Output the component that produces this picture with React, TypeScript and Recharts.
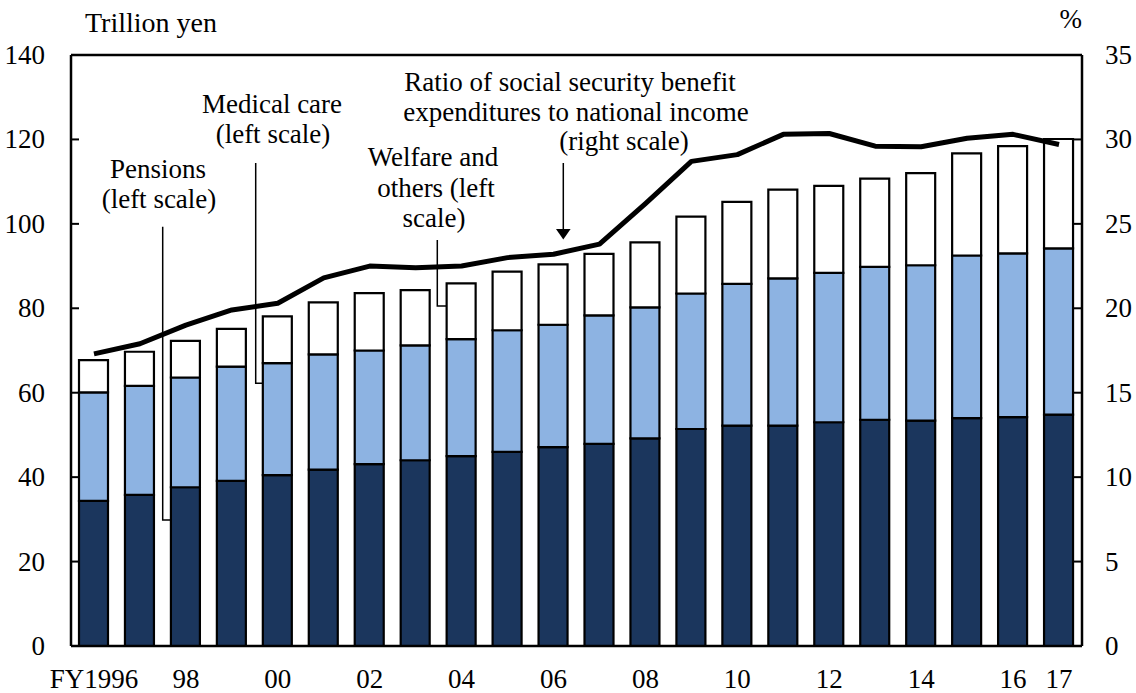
import { ComposedChart, Bar, Line, XAxis, YAxis, ReferenceLine } from 'recharts';

const years = ['1996', '1997', '1998', '1999', '2000', '2001', '2002', '2003', '2004', '2005', '2006', '2007', '2008', '2009', '2010', '2011', '2012', '2013', '2014', '2015', '2016', '2017'];
const yearLabels = ['FY1996', '', '98', '', '00', '', '02', '', '04', '', '06', '', '08', '', '10', '', '12', '', '14', '', '16', '17'];

// trillion yen
const pensions = [34.4, 35.8, 37.6, 39.1, 40.5, 41.8, 43.1, 44.0, 45.0, 46.0, 47.1, 47.9, 49.2, 51.4, 52.2, 52.2, 53.0, 53.6, 53.4, 54.0, 54.2, 54.8];
const medicalCare = [25.7, 25.8, 26.0, 27.1, 26.5, 27.3, 26.9, 27.2, 27.7, 28.8, 29.0, 30.4, 31.0, 32.1, 33.6, 34.9, 35.4, 36.2, 36.8, 38.5, 38.8, 39.4];
const welfare = [7.6, 8.1, 8.7, 8.9, 11.1, 12.3, 13.6, 13.1, 13.2, 13.9, 14.3, 14.6, 15.4, 18.2, 19.4, 21.0, 20.6, 20.9, 21.8, 24.2, 25.4, 25.9];
// % of national income
const ratio = [17.3, 17.9, 19.0, 19.9, 20.3, 21.8, 22.5, 22.4, 22.5, 23.0, 23.2, 23.8, 26.2, 28.7, 29.1, 30.3, 30.35, 29.6, 29.57, 30.07, 30.3, 29.7];

const leftTicks = [0, 20, 40, 60, 80, 100, 120, 140];
const rightTicks = [0, 5, 10, 15, 20, 25, 30, 35];

const data = years.map((year, i) => ({
  year,
  pensions: pensions[i],
  medical: medicalCare[i],
  welfare: welfare[i],
  ratio: ratio[i],
}));

const FONT = '"Liberation Serif", "Times New Roman", serif';
const FS = 27;

const LeftTick = ({ x, y, payload }: any) => (
  <g>
    <line x1={x} x2={x + 8} y1={y} y2={y} stroke="#000" strokeWidth={2} />
    <text x={x - 26} y={y} textAnchor="end" dominantBaseline="central" fontFamily={FONT} fontSize={FS} fill="#000">
      {payload.value}
    </text>
  </g>
);

const RightTick = ({ x, y, payload }: any) => (
  <g>
    <line x1={x - 8} x2={x} y1={y} y2={y} stroke="#000" strokeWidth={2} />
    <text x={x + 23} y={y} textAnchor="start" dominantBaseline="central" fontFamily={FONT} fontSize={FS} fill="#000">
      {payload.value}
    </text>
  </g>
);

const BottomTick = ({ x, y, index }: any) => (
  <text x={x} y={y + 42} textAnchor="middle" fontFamily={FONT} fontSize={FS} fill="#000">
    {yearLabels[index]}
  </text>
);

const txt = { fontFamily: FONT, fontSize: FS, fill: '#000' };

export default function App() {
  return (
    <div style={{ position: 'absolute', left: 0, top: 0, width: 1136, height: 693, background: '#fff' }}>
      <ComposedChart width={1136} height={693} data={data} margin={{ top: 55, right: 0, bottom: 0, left: 0 }}>
        <XAxis
          dataKey="year"
          height={47}
          interval={0}
          tickLine={false}
          tickSize={0}
          tickMargin={0}
          axisLine={{ stroke: '#000', strokeWidth: 2.5 }}
          tick={<BottomTick />}
        />
        <YAxis
          yAxisId="left"
          orientation="left"
          width={71}
          domain={[0, 140]}
          ticks={leftTicks}
          tickLine={false}
          tickSize={0}
          tickMargin={0}
          axisLine={{ stroke: '#000', strokeWidth: 2.5 }}
          tick={<LeftTick />}
        />
        <YAxis
          yAxisId="right"
          orientation="right"
          width={54}
          domain={[0, 35]}
          ticks={rightTicks}
          tickLine={false}
          tickSize={0}
          tickMargin={0}
          axisLine={{ stroke: '#000', strokeWidth: 2.5 }}
          tick={<RightTick />}
        />
        <ReferenceLine yAxisId="left" y={140} stroke="#000" strokeWidth={2.5} />
        <Bar yAxisId="left" dataKey="pensions" stackId="a" barSize={29} fill="#1b365d" stroke="#000" strokeWidth={2.2} isAnimationActive={false} />
        <Bar yAxisId="left" dataKey="medical" stackId="a" barSize={29} fill="#8db3e2" stroke="#000" strokeWidth={2.2} isAnimationActive={false} />
        <Bar yAxisId="left" dataKey="welfare" stackId="a" barSize={29} fill="#ffffff" stroke="#000" strokeWidth={2.2} isAnimationActive={false} />
        <Line yAxisId="right" dataKey="ratio" type="linear" stroke="#000" strokeWidth={5} dot={false} strokeLinejoin="round" isAnimationActive={false} />
      </ComposedChart>

      <svg width={1136} height={693} style={{ position: 'absolute', left: 0, top: 0, pointerEvents: 'none' }}>
        <text x={85} y={32} {...txt} fontSize={28}>Trillion yen</text>
        <text x={1082} y={28} textAnchor="end" {...txt}>%</text>

        <text x={272} y={113} textAnchor="middle" {...txt}>Medical care</text>
        <text x={273} y={143} textAnchor="middle" {...txt}>(left scale)</text>
        <polyline points="255.7,163 255.7,383.3 262,383.3" fill="none" stroke="#000" strokeWidth={1.5} />

        <text x={158} y={178} textAnchor="middle" {...txt}>Pensions</text>
        <text x={159} y={208} textAnchor="middle" {...txt}>(left scale)</text>
        <polyline points="162.7,226.7 162.7,520 171,520" fill="none" stroke="#000" strokeWidth={1.5} />

        <text x={433} y={166} textAnchor="middle" {...txt}>Welfare and</text>
        <text x={436} y={197} textAnchor="middle" {...txt}>others (left</text>
        <text x={434} y={227} textAnchor="middle" {...txt}>scale)</text>
        <polyline points="437.3,240 437.3,306 446,306" fill="none" stroke="#000" strokeWidth={1.5} />

        <text x={570} y={91} textAnchor="middle" {...txt}>Ratio of social security benefit</text>
        <text x={576} y={121} textAnchor="middle" {...txt}>expenditures to national income</text>
        <text x={624} y={150} textAnchor="middle" {...txt}>(right scale)</text>
        <line x1={563.3} y1={163} x2={563.3} y2={230} stroke="#000" strokeWidth={1.5} />
        <polygon points="556,229 570.6,229 563.3,239.5" fill="#000" />
      </svg>
    </div>
  );
}
